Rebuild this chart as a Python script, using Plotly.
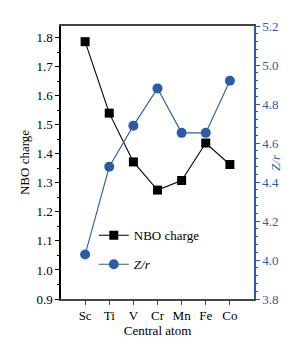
import plotly.graph_objects as go

atoms = ["Sc", "Ti", "V", "Cr", "Mn", "Fe", "Co"]
nbo_charge = [1.786, 1.540, 1.372, 1.275, 1.308, 1.437, 1.363]
z_over_r = [4.028, 4.478, 4.689, 4.880, 4.652, 4.652, 4.919]

BLUE = "#2C5CA8"
FONT = "Liberation Serif"

fig = go.Figure()
fig.add_trace(go.Scatter(
    x=atoms, y=nbo_charge, name="NBO charge", mode="lines+markers",
    line=dict(color="black", width=1.1),
    marker=dict(symbol="square", size=9, color="black"),
    legendgroup="a", yaxis="y"))
fig.add_trace(go.Scatter(
    x=atoms, y=z_over_r, name="<i>Z/r</i>", mode="lines+markers",
    line=dict(color=BLUE, width=1.1),
    marker=dict(symbol="circle", size=10, color=BLUE),
    legendgroup="b", yaxis="y2"))

fig.update_layout(
    width=302, height=337,
    margin=dict(l=53, r=56, t=11, b=39),
    paper_bgcolor="white", plot_bgcolor="white",
    font=dict(family=FONT, size=13, color="black"),
    showlegend=True,
    legend=dict(x=0.17, y=0.18, xanchor="left", yanchor="middle",
                bgcolor="rgba(0,0,0,0)", font=dict(size=13, family=FONT),
                tracegroupgap=9, itemwidth=30),
    xaxis=dict(
        type="category", range=[-1, 7],
        showline=True, linecolor="#444", linewidth=1.5, mirror=True,
        ticks="outside", ticklen=4, tickcolor="#444", showgrid=False,
        title=dict(text="Central atom", standoff=2, font=dict(size=13)),
        tickfont=dict(size=13)),
    yaxis=dict(
        range=[0.9, 1.84], tickvals=[0.9, 1.0, 1.1, 1.2, 1.3, 1.4, 1.5, 1.6, 1.7, 1.8],
        tickformat=".1f",
        showline=True, linecolor="black", linewidth=1.5,
        ticks="outside", ticklen=4, tickcolor="black", showgrid=False,
        minor=dict(ticks="outside", ticklen=2, dtick=0.05, tick0=0.9, tickcolor="black", showgrid=False),
        title=dict(text="NBO charge", standoff=4, font=dict(size=13)),
        tickfont=dict(size=13), zeroline=False),
    yaxis2=dict(
        range=[3.8, 5.2], overlaying="y", side="right",
        tickvals=[3.8, 4.0, 4.2, 4.4, 4.6, 4.8, 5.0, 5.2], tickformat=".1f",
        showline=True, linecolor=BLUE, linewidth=1.5,
        ticks="outside", ticklen=4, tickcolor=BLUE, showgrid=False,
        minor=dict(ticks="outside", ticklen=2, dtick=0.04, tick0=3.8, tickcolor=BLUE, showgrid=False),
        tickfont=dict(size=13, color=BLUE), zeroline=False),
    annotations=[dict(text="<i>Z/r</i>", xref="paper", yref="paper",
                      x=1.16, y=0.5, showarrow=False, textangle=-90,
                      font=dict(size=13, color=BLUE, family=FONT))],
)

fig.write_html("out.html")
